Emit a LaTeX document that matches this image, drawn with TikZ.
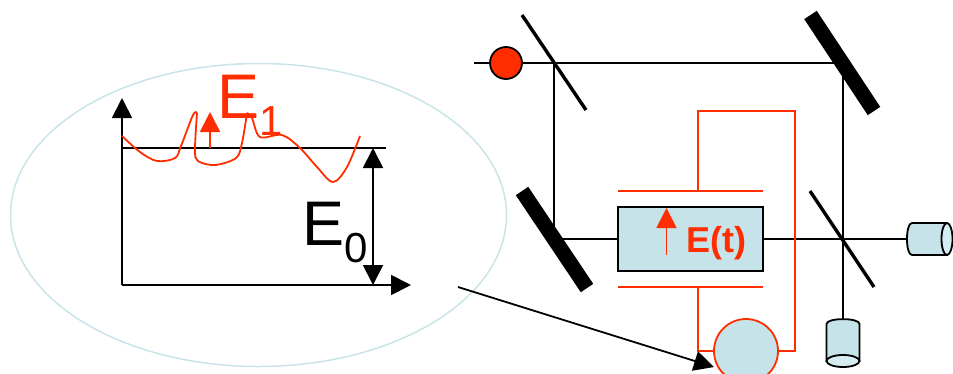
\documentclass[tikz,border=0pt]{standalone}
\usepackage{xcolor}
\usepackage{fontspec}
\setmainfont{Liberation Sans}
\usepackage{tikz}
\usetikzlibrary{shapes.geometric, arrows.meta, positioning, calc}
\definecolor{myred}{RGB}{255,45,0}
\definecolor{mycyan}{RGB}{197,227,232}
\definecolor{mypale}{RGB}{200,228,232}
\definecolor{mycap}{RGB}{215,236,240}
\tikzset{
  beam/.style={line width=1.8pt, color=black},
  wire/.style={line width=1.8pt, color=myred},
  splitter/.style={line width=3.4pt, color=black},
  mirror/.style={line width=15pt, color=black},
  bigarrow/.style={{Triangle[length=20pt,width=20pt]}-, line width=1.8pt, color=black},
  twoarrow/.style={{Triangle[length=20pt,width=20pt]}-{Triangle[length=20pt,width=20pt]}, line width=1.8pt, color=black},
  detbody/.style={draw=black, fill=mycyan, line width=1.8pt},
  detcap/.style={draw=black, fill=mycap, line width=1.8pt},
  detslot/.style={rectangle, inner sep=0pt, outer sep=0pt},
  bigtext/.style={inner sep=0pt, anchor=base west, font=\fontsize{63}{63}\selectfont}
}
\newcommand{\lowdigit}[2]{\raisebox{-17pt}{\fontsize{#1}{#1}\selectfont #2}}

\begin{document}
\begin{tikzpicture}[x=1pt, y=-1pt]
  \useasboundingbox (0,0) rectangle (953,373);
  % enlarged view
  \node[ellipse, draw=mypale, line width=1.5pt, minimum width=496pt, minimum height=303pt,
    inner sep=0pt] (zoomview) at (258.5,215) {};
  \coordinate (origin) at (122,285);
  \coordinate (ytip) at (122,98);
  \coordinate (xtip) at (411,285);
  \coordinate (levelL) at (122,148);
  \coordinate (levelR) at (386,148);
  \coordinate (levelA) at (373,148);
  \coordinate (levelB) at (373,285);
  \coordinate (fieldA) at (210,148);
  \coordinate (fieldB) at (210,112);
  \draw[bigarrow] (ytip) -- (origin);
  \draw[bigarrow] (xtip) -- (origin);
  \draw[beam] (levelL) -- (levelR);
  \draw[twoarrow] (levelA) -- (levelB);
  \node[bigtext, text=myred] (eone) at (217,118) {E\lowdigit{42}{1}};
  \node[bigtext] (ezero) at (302,245) {E\lowdigit{42}{0}};
  \draw[bigarrow, color=myred] (fieldB) -- (fieldA);
  \draw[wire] plot[smooth, tension=0.55] coordinates {(122,136) (140,152) (157,161) (175,158)
    (181,146) (193,115) (197,113)};
  \draw[wire] plot[smooth, tension=0.55] coordinates {(197,113) (195,150) (198,161) (215,165)
    (236,158) (242,143) (247,113)};
  \draw[wire] plot[smooth, tension=0.55] coordinates {(247,113) (252,118) (260,137) (282,135)
    (300,148) (317,167) (333,182) (347,167) (360,136)};

  % interferometer
  \coordinate (laserin) at (474,63);
  \coordinate (splitA) at (554,63);
  \coordinate (foldA) at (843,63);
  \coordinate (foldB) at (554,239);
  \node[detslot, minimum width=46pt, minimum height=32pt] (detright) at (930,239) {};
  \node[detslot, minimum width=33pt, minimum height=48pt] (detdown) at (843,343) {};
  \draw[beam] (laserin) -- (foldA) -- (detdown.north);
  \draw[beam] (splitA) -- (foldB) -- (detright.west);
  \draw[detbody] (912,223) -- (947,223) -- (947,255) -- (912,255)
    .. controls (905.3,255) and (905.3,223) .. (912,223) -- cycle;
  \draw[detcap] (947,239) ellipse [x radius=5.5, y radius=16];
  \draw[detbody] (826.5,324) .. controls (826.5,317.5) and (859.5,317.5) .. (859.5,324)
    -- (859.5,361) -- (826.5,361) -- cycle;
  \draw[detcap] (843,361) ellipse [x radius=16.5, y radius=6];
  \node[circle, draw=black, fill=myred, line width=1.8pt, minimum size=32pt, inner sep=0pt]
    (laser) at (506,63) {};
  \draw[splitter] (522,15) -- (586,110);
  \draw[splitter] (810,191) -- (874,287);
  \draw[mirror] (810.5,15) -- (874,111);
  \draw[mirror] (522,191) -- (587,288);

  % modulator
  \node[rectangle, draw=black, fill=mycyan, line width=1.8pt, minimum width=145pt,
    minimum height=64pt, inner sep=0pt] (cell) at (690.5,239) {};
  \coordinate (plateTL) at (618,191);
  \coordinate (plateTR) at (763,191);
  \coordinate (plateBL) at (618,287);
  \coordinate (plateBR) at (763,287);
  \coordinate (plateT) at (698,191);
  \coordinate (plateB) at (698,287);
  \node[circle, draw=myred, fill=mycyan, line width=1.8pt, minimum size=64pt, inner sep=0pt]
    (source) at (746,351) {};
  \draw[wire] (plateTL) -- (plateTR);
  \draw[wire] (plateBL) -- (plateBR);
  \draw[wire] (plateT) -- (698,111) -- (795,111) -- (795,351) -- (source.east);
  \draw[wire] (plateB) -- (698,351) -- (source.west);
  \coordinate (cellA) at (666.5,255);
  \coordinate (cellB) at (666.5,208);
  \draw[bigarrow, color=myred] (cellB) -- (cellA);
  \node[inner sep=0pt, anchor=base west, text=myred, font=\fontsize{36}{36}\selectfont\bfseries]
    (fieldlabel) at (686,252) {E(t)};

  % link from source to enlarged view
  \coordinate (linkstart) at (458,287);
  \coordinate (linktip) at (714,367);
  \draw[bigarrow] (linktip) -- (linkstart);
\end{tikzpicture}
\end{document}
